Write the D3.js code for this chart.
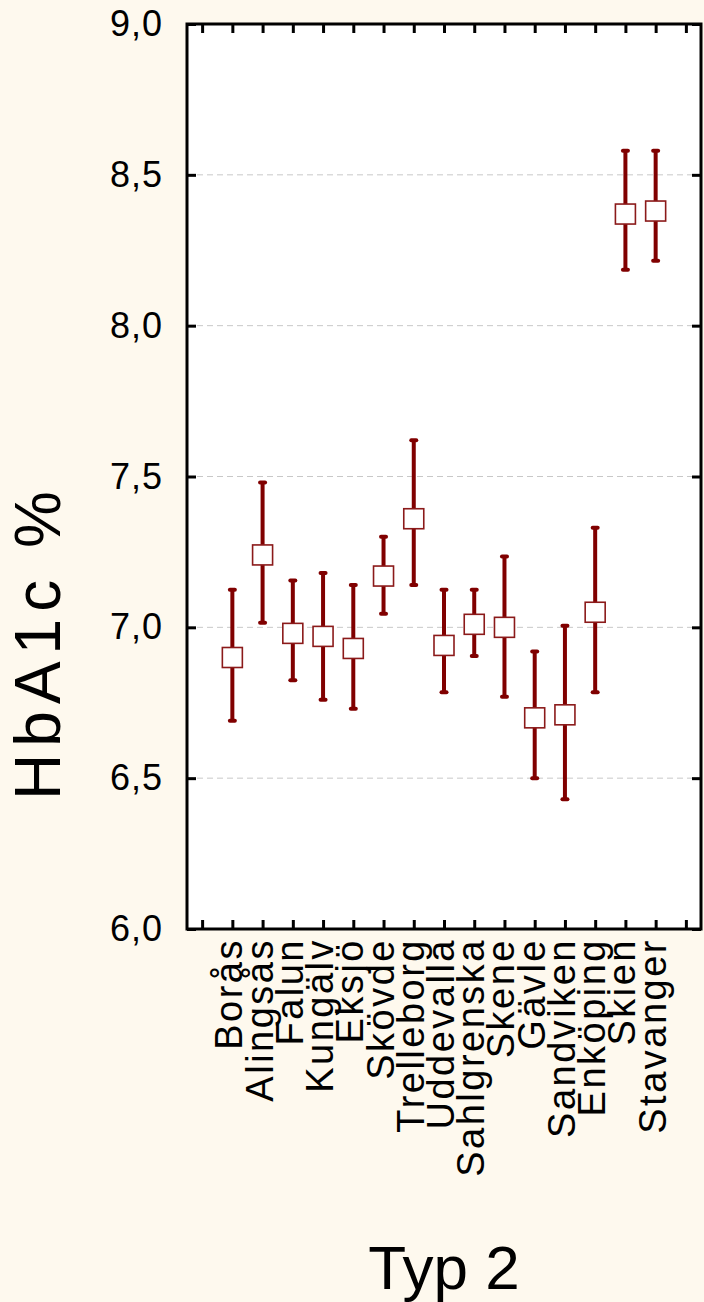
<!DOCTYPE html>
<html>
<head>
<meta charset="utf-8">
<script src="https://cdn.jsdelivr.net/npm/d3@7"></script>
<style>
	body { margin: 0; background: #fef9ee; }
	svg { display: block; font-family: "Liberation Sans", Arial, sans-serif; }
</style>
</head>
<body>
<svg id="chart" width="704" height="1302"></svg>
<script>
// HbA1c per klinik, typ 2 (medel med konfidensintervall)
var categories = ["Borås", "Alingsås", "Falun", "Kungälv", "Eksjö", "Skövde", "Trelleborg", "Uddevalla",
	"Sahlgrenska", "Skene", "Gävle", "Sandviken", "Enköping", "Skien", "Stavanger"];
var means = [6.90, 7.24, 6.98, 6.97, 6.93, 7.17, 7.36, 6.94, 7.01, 7.00, 6.70, 6.71, 7.05, 8.37, 8.38];
var upper = [7.125, 7.48, 7.155, 7.18, 7.14, 7.30, 7.62, 7.125, 7.125, 7.235, 6.92, 7.005, 7.33, 8.58, 8.58];
var lower = [6.69, 7.015, 6.825, 6.76, 6.73, 7.045, 7.14, 6.785, 6.905, 6.77, 6.50, 6.43, 6.785, 8.185, 8.215];
var yTicks = [6.0, 6.5, 7.0, 7.5, 8.0, 8.5, 9.0];
var yTitle = "HbA1c %";
var xTitle = "Typ 2";

var svg = d3.select("#chart"),
	margin = {top: 24, right: 3, bottom: 373, left: 187},
	width = +svg.attr("width") - margin.left - margin.right,
	height = +svg.attr("height") - margin.top - margin.bottom;

var red = "#800000";

// one empty slot on each side of the categories, like the original
var slots = d3.range(-1, categories.length + 1);
var x = d3.scalePoint().domain(slots).range([0, width]).padding(0.5);
var y = d3.scaleLinear().domain([6, 9]).range([height, 0]);

var g = svg.append("g")
	.attr("transform", "translate(" + margin.left + "," + margin.top + ")");

g.append("rect")
	.attr("width", width)
	.attr("height", height)
	.attr("fill", "#fff");

// grid
g.selectAll(".grid")
	.data(yTicks.filter(function(d) { return d > 6 && d < 9; }))
  .enter().append("line")
	.attr("class", "grid")
	.attr("x1", 0)
	.attr("x2", width)
	.attr("y1", function(d) { return y(d); })
	.attr("y2", function(d) { return y(d); })
	.attr("stroke", "#c8c8c8")
	.attr("stroke-width", 1)
	.attr("stroke-dasharray", "6,4");

var fmt = function(d) { return d3.format(".1f")(d).replace(".", ","); };

var yl = g.append("g")
	.attr("class", "y axis")
	.call(d3.axisLeft(y).tickValues(yTicks).tickSize(-9).tickPadding(24).tickFormat(fmt));
var yr = g.append("g")
	.attr("transform", "translate(" + width + ",0)")
	.call(d3.axisRight(y).tickValues(yTicks).tickSize(-9).tickFormat(""));
var xt = g.append("g")
	.call(d3.axisTop(x).tickSize(-9).tickFormat(""));
var xb = g.append("g")
	.attr("transform", "translate(0," + height + ")")
	.call(d3.axisBottom(x).tickSize(-9).tickFormat(""));

g.selectAll(".domain").remove();
g.selectAll(".tick line").attr("stroke", "#000").attr("stroke-width", 3);
yl.selectAll("text")
	.attr("fill", "#000")
	.style("font-size", "36px")
	.style("letter-spacing", "1px")
	.style("font-family", "'Liberation Sans', Arial, sans-serif");

g.append("rect")
	.attr("width", width)
	.attr("height", height)
	.attr("fill", "none")
	.attr("stroke", "#000")
	.attr("stroke-width", 3);

// category labels, rotated
g.selectAll(".cat")
	.data(categories)
  .enter().append("text")
	.attr("class", "cat")
	.attr("transform", function(d, i) { return "translate(" + (x(i) + 10) + "," + (height + 9) + ") rotate(-90)"; })
	.attr("text-anchor", "end")
	.style("font-size", "38px")
	.style("letter-spacing", "2.5px")
	.text(function(d) { return d; });

// error bars
var bars = g.selectAll(".err")
	.data(categories)
  .enter().append("g")
	.attr("class", "err")
	.attr("transform", function(d, i) { return "translate(" + x(i) + ",0)"; });

bars.append("line")
	.attr("y1", function(d, i) { return y(upper[i]); })
	.attr("y2", function(d, i) { return y(lower[i]); })
	.attr("stroke", red)
	.attr("stroke-width", 4);

bars.selectAll(".cap")
	.data(function(d, i) { return [upper[i], lower[i]]; })
  .enter().append("line")
	.attr("class", "cap")
	.attr("x1", -2.5)
	.attr("x2", 2.5)
	.attr("y1", function(d) { return y(d); })
	.attr("y2", function(d) { return y(d); })
	.attr("stroke", red)
	.attr("stroke-width", 4)
	.attr("stroke-linecap", "round");

bars.append("rect")
	.attr("x", -10)
	.attr("y", function(d, i) { return y(means[i]) - 10; })
	.attr("width", 20)
	.attr("height", 20)
	.attr("fill", "#fff")
	.attr("stroke", "#8b1a1a")
	.attr("stroke-width", 1.6);

// titles
svg.append("text")
	.attr("transform", "translate(60,642) rotate(-90)")
	.attr("text-anchor", "middle")
	.style("font-size", "64px")
	.style("letter-spacing", "7px")
	.text(yTitle);

svg.append("text")
	.attr("x", margin.left + width / 2)
	.attr("y", 1289)
	.attr("text-anchor", "middle")
	.style("font-size", "62px")
	.text(xTitle);
</script>
</body>
</html>
